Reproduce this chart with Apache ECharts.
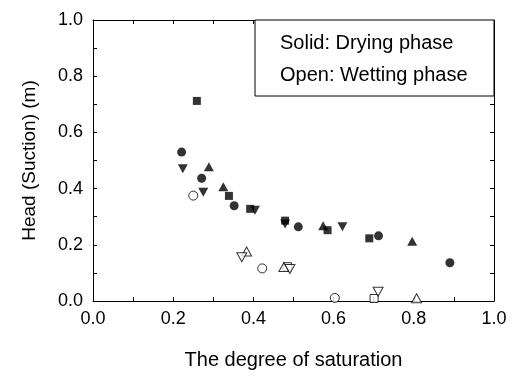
<!DOCTYPE html>
<html>
<head>
<meta charset="utf-8">
<script src="https://cdn.jsdelivr.net/npm/echarts@6/dist/echarts.min.js"></script>
<style>html,body{margin:0;padding:0;background:#fff}#c{width:518px;height:378px}</style>
</head>
<body>
<div id="c"></div>
<script>
var xTicks = ['0.0','0.2','0.4','0.6','0.8','1.0'];
var yTicks = ['0.0','0.2','0.4','0.6','0.8','1.0'];
var legendLines = ['Solid: Drying phase', 'Open: Wetting phase'];
var xTitle = 'The degree of saturation';
var yTitle = 'Head (Suction) (m)';

var dryCircle = [[0.221,0.530],[0.271,0.437],[0.352,0.339],[0.512,0.264],[0.712,0.232],[0.890,0.136]];
var drySquare = [[0.259,0.712],[0.339,0.374],[0.392,0.328],[0.479,0.286],[0.585,0.252],[0.689,0.223]];
var dryUp = [[0.289,0.478],[0.325,0.407],[0.574,0.268],[0.796,0.213]];
var dryDown = [[0.224,0.471],[0.275,0.387],[0.404,0.323],[0.479,0.274],[0.622,0.264]];
var wetCircle = [[0.250,0.375],[0.422,0.116],[0.603,0.011]];
var wetSquare = [[0.485,0.122],[0.701,0.009]];
var wetUp = [[0.383,0.176],[0.476,0.121],[0.807,0.010]];
var wetDown = [[0.371,0.156],[0.491,0.114],[0.711,0.033]];

var FONT = 'Liberation Sans, Arial, sans-serif';
var downTri = 'path://M0,0 L10,0 L5,9 Z';
var upTri = 'path://M5,0 L10,9 L0,9 Z';

function ser(data, symbol, size, filled) {
  return {
    type: 'scatter', data: data, symbol: symbol, symbolSize: size,
    xAxisIndex: 0, yAxisIndex: 0,
    itemStyle: filled ? {color: '#000'} : {color: '#fff', borderColor: '#000', borderWidth: 1},
    emphasis: {disabled: true}, z: filled ? 3 : 4
  };
}

function tickLabel(labels) {
  return function (v) {
    var i = Math.round(v * 10);
    return i % 2 === 0 ? labels[i / 2] : '';
  };
}

function axisCommon(show, labels) {
  return {
    min: 0, max: 1, interval: 0.1,
    axisLine: {show: true, onZero: false, lineStyle: {color: '#000', width: 1}},
    axisTick: {show: true, inside: true, length: 4, lineStyle: {color: '#000'}},
    splitLine: {show: false},
    axisLabel: {show: show, color: '#000', fontSize: 18, fontFamily: FONT, margin: 9,
      formatter: tickLabel(labels)}
  };
}

var xMain = Object.assign(axisCommon(true, xTicks), {
  type: 'value', position: 'bottom', name: xTitle, nameLocation: 'middle', nameGap: 49,
  nameTextStyle: {color: '#000', fontSize: 20, fontFamily: FONT}
});
var xTop = Object.assign(axisCommon(false, xTicks), {type: 'value', position: 'top'});
var yMain = Object.assign(axisCommon(true, yTicks), {
  type: 'value', position: 'left', name: yTitle, nameLocation: 'middle', nameGap: 54,
  nameTextStyle: {color: '#000', fontSize: 19, fontFamily: FONT}
});
yMain.axisLabel.margin = 10;
var yRight = Object.assign(axisCommon(false, yTicks), {type: 'value', position: 'right'});

var chart = echarts.init(document.getElementById('c'), null, {renderer: 'canvas'});
chart.setOption({
  animation: false,
  backgroundColor: '#fff',
  grid: {left: 93, right: 24, top: 20, bottom: 77, containLabel: false},
  xAxis: [xMain, xTop],
  yAxis: [yMain, yRight],
  series: [
    ser(dryCircle, 'circle', 9, true),
    ser(drySquare, 'rect', 8, true),
    ser(dryUp, upTri, [10, 9], true),
    ser(dryDown, downTri, [10, 9], true),
    ser(wetCircle, 'circle', 9, false),
    ser(wetSquare, 'rect', 8, false),
    ser(wetUp, upTri, [10, 9], false),
    ser(wetDown, downTri, [10, 9], false)
  ],
  graphic: [
    {type: 'rect', shape: {x: 255, y: 20, width: 239, height: 76},
     style: {fill: '#fff', stroke: '#000', lineWidth: 1}, z: 10},
    {type: 'text', x: 280, y: 43, z: 11,
     style: {text: legendLines[0], fill: '#000', font: '20px ' + FONT, verticalAlign: 'middle'}},
    {type: 'text', x: 280, y: 75, z: 11,
     style: {text: legendLines[1], fill: '#000', font: '20px ' + FONT, verticalAlign: 'middle'}}
  ]
});
</script>
</body>
</html>
